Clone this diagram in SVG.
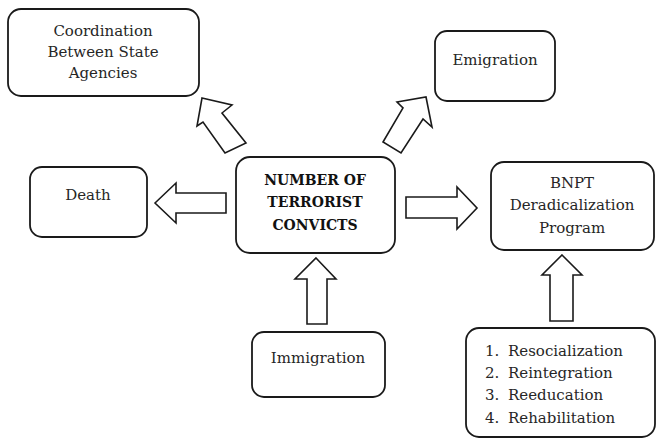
<svg xmlns="http://www.w3.org/2000/svg" width="658" height="439" viewBox="0 0 658 439">
<style>
.box{fill:#fff;stroke:#1a1a1a;stroke-width:1.8}
.arr{fill:#fff;stroke:#1a1a1a;stroke-width:1.6;stroke-linejoin:miter}
.t{font-family:"DejaVu Serif","Liberation Serif",serif;font-size:15px;fill:#262626;text-anchor:middle}
.b{font-family:"DejaVu Serif","Liberation Serif",serif;font-size:14px;font-weight:bold;fill:#111;text-anchor:middle}
.l{font-family:"DejaVu Serif","Liberation Serif",serif;font-size:15px;fill:#262626}
</style>
<rect width="658" height="439" fill="#fff"/>
<g id="connectors">
<polygon class="arr" points="155,203 176,183 176,193 226,193 226,213 176,213 176,223"/>
<polygon class="arr" points="406,197 457,197 457,187 477,208 457,229 457,218 406,218"/>
<polygon class="arr" points="316,258 336,279 327,279 327,324 307,324 307,279 295,279"/>
<polygon class="arr" points="562,255 582,275 573,275 573,321 550,321 550,275 542,275"/>
<polygon class="arr" points="202,98 232,105 222,113 246,143 225,153 203,122 197,126"/>
<polygon class="arr" points="426,97 432,127 423,119 401,153 383,142 403,108 397,102"/>
</g>
<g id="coordination">
<rect class="box" x="8" y="9" width="191" height="87" rx="13"/>
<text class="t" x="103" y="36">Coordination</text>
<text class="t" x="103" y="57">Between State</text>
<text class="t" x="103" y="78">Agencies</text>
</g>
<g id="death">
<rect class="box" x="30" y="167" width="117" height="70" rx="12"/>
<text class="t" x="88" y="200">Death</text>
</g>
<g id="center">
<rect class="box" x="236" y="157" width="159" height="96" rx="14"/>
<text class="b" x="315" y="185">NUMBER OF</text>
<text class="b" x="315" y="207">TERRORIST</text>
<text class="b" x="315" y="230">CONVICTS</text>
</g>
<g id="emigration">
<rect class="box" x="435" y="31" width="120" height="70" rx="12"/>
<text class="t" x="495" y="65">Emigration</text>
</g>
<g id="bnpt">
<rect class="box" x="491" y="162" width="163" height="88" rx="13"/>
<text class="t" x="572" y="188">BNPT</text>
<text class="t" x="572" y="210">Deradicalization</text>
<text class="t" x="572" y="233">Program</text>
</g>
<g id="immigration">
<rect class="box" x="252" y="332" width="133" height="65" rx="12"/>
<text class="t" x="318" y="363">Immigration</text>
</g>
<g id="list">
<rect class="box" x="466" y="328" width="189" height="109" rx="13"/>
<text class="l" x="485" y="356">1.</text><text class="l" x="508" y="356">Resocialization</text>
<text class="l" x="485" y="378">2.</text><text class="l" x="508" y="378">Reintegration</text>
<text class="l" x="485" y="400">3.</text><text class="l" x="508" y="400">Reeducation</text>
<text class="l" x="485" y="423">4.</text><text class="l" x="508" y="423">Rehabilitation</text>
</g>
</svg>
